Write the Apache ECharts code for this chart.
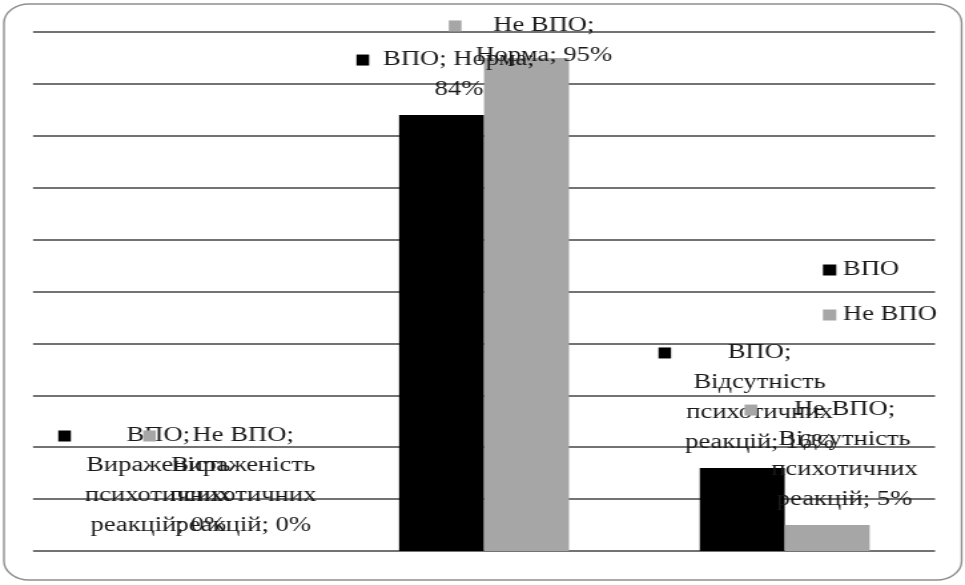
<!DOCTYPE html>
<html>
<head>
<meta charset="utf-8">
<script src="https://cdn.jsdelivr.net/npm/echarts@6/dist/echarts.min.js"></script>
<style>
  html, body { margin: 0; padding: 0; background: #ffffff; overflow: hidden; }
  /* the chart is laid out narrower and widened to the page, giving the broad lettering */
  #chart { width: 725px; height: 585px; transform: scaleX(1.331); transform-origin: 0 0; }
</style>
</head>
<body>
<div id="chart"></div>
<script>
// Categories and per-group percentages
const categories = ['Вираженість психотичних реакцій', 'Норма', 'Відсутність психотичних реакцій'];
const seriesNames = ['ВПО', 'Не ВПО'];
const vpoValues = [0, 84, 16];
const nonVpoValues = [0, 95, 5];
const seriesColors = ['#000000', '#a6a6a6'];

const FONT = '"Liberation Serif", "Times New Roman", serif';
const TEXT_COLOR = '#1a1a1a';

// Word wrapping for the data labels, measured with the label font
const measureCtx = document.createElement('canvas').getContext('2d');
measureCtx.font = '20px ' + FONT;
function wrapWords(text, maxWidth) {
  const words = text.split(' ');
  const lines = [];
  let cur = '';
  words.forEach(w => {
    const trial = cur ? cur + ' ' + w : w;
    if (cur && measureCtx.measureText(trial).width > maxWidth) {
      lines.push(cur);
      cur = w;
    } else {
      cur = trial;
    }
  });
  if (cur) lines.push(cur);
  return lines;
}

// "Series; Category; Value%" with a colour key in front of the first line
function labelFormatter(p) {
  const full = p.seriesName + '; ' + p.name + '; ' + p.value + '%';
  return wrapWords(full, 118)
    .map((line, i) => (i === 0 ? '{k' + p.seriesIndex + '|}{g|}' : '{s|}') + '{t|' + line + '}')
    .join('\n');
}

const labelRich = {
  k0: { width: 9.5, height: 11, backgroundColor: seriesColors[0], align: 'left' },
  k1: { width: 9.5, height: 11, backgroundColor: seriesColors[1], align: 'left' },
  g: { width: 10.5, align: 'left' },
  s: { width: 20, align: 'left' },
  t: { align: 'center', fontSize: 20, fontFamily: FONT, color: TEXT_COLOR, lineHeight: 30 }
};

function buildData(values) {
  return values.map(v => {
    const item = { value: v };
    // labels of the tallest bars are pulled down to stay inside the frame
    if (v > 90) item.label = { distance: -13 };
    return item;
  });
}

function makeSeries(name, values, color) {
  return {
    name: name,
    type: 'bar',
    data: buildData(values),
    barGap: '0%',
    barCategoryGap: '43.5%',
    itemStyle: { color: color },
    label: {
      show: true,
      position: 'top',
      distance: 10,
      offset: [3, 0],
      formatter: labelFormatter,
      fontSize: 20,
      fontFamily: FONT,
      color: TEXT_COLOR,
      lineHeight: 30,
      rich: labelRich
    }
  };
}

const chart = echarts.init(document.getElementById('chart'), null, { renderer: 'canvas' });
chart.setOption({
  animation: false,
  backgroundColor: '#ffffff',
  graphic: [{
    type: 'rect',
    silent: true,
    z: -10,
    shape: { x: 3, y: 4, width: 719.5, height: 576, r: 19 },
    style: { fill: 'none', stroke: '#8f8f8f', lineWidth: 1.4 }
  }],
  grid: { left: 24.8, right: 22.5, top: 32, bottom: 34, containLabel: false },
  legend: {
    orient: 'vertical',
    left: 618.3,
    top: 258,
    padding: 0,
    itemWidth: 10,
    itemHeight: 11,
    itemGap: 21,
    icon: 'rect',
    selectedMode: false,
    data: seriesNames,
    textStyle: { fontSize: 20, fontFamily: FONT, color: TEXT_COLOR, lineHeight: 24 }
  },
  xAxis: {
    type: 'category',
    data: categories,
    axisLine: { show: false },
    axisTick: { show: false },
    axisLabel: { show: false }
  },
  yAxis: {
    type: 'value',
    min: 0,
    max: 100,
    interval: 10,
    axisLine: { show: false },
    axisTick: { show: false },
    axisLabel: { show: false },
    splitLine: { show: true, lineStyle: { color: '#444444', width: 1.5 } }
  },
  series: [
    makeSeries(seriesNames[0], vpoValues, seriesColors[0]),
    makeSeries(seriesNames[1], nonVpoValues, seriesColors[1])
  ]
});
</script>
</body>
</html>
